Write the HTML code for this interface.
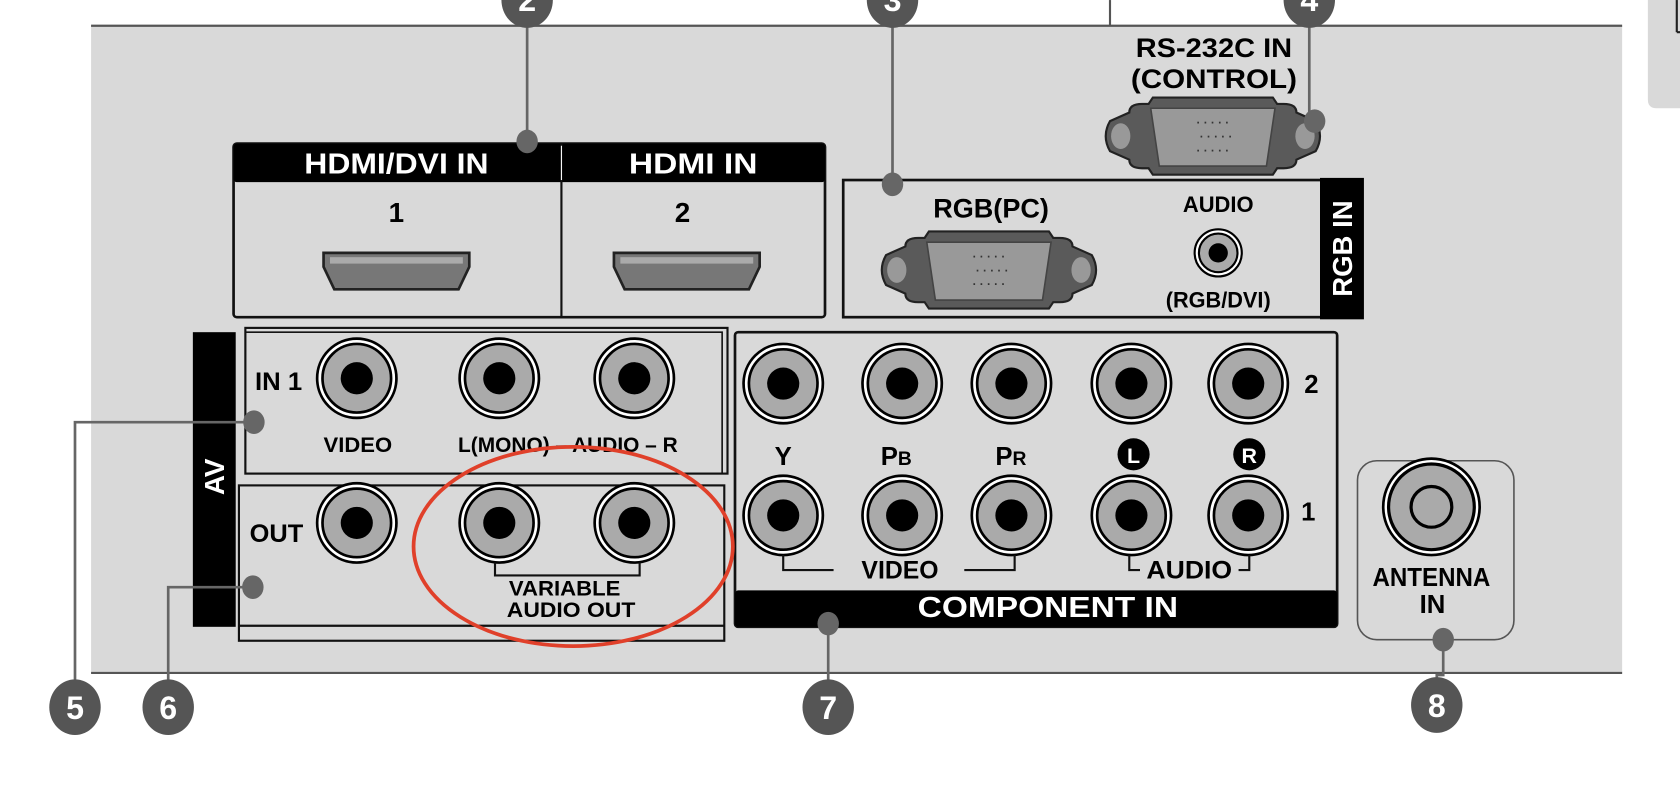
<!DOCTYPE html>
<html><head><meta charset="utf-8"><style>
html,body{margin:0;padding:0;background:#fff;width:1680px;height:794px;overflow:hidden}
svg{display:block}
text{font-family:"Liberation Sans Narrow","Liberation Sans",sans-serif;font-weight:bold}
</style></head><body>
<svg width="1680" height="794" viewBox="0 0 1568 741" xmlns="http://www.w3.org/2000/svg">
<defs>
<g id="jk">
<circle r="37" fill="#fff" stroke="#000" stroke-width="2.5"/>
<circle r="32" fill="#aaa" stroke="#000" stroke-width="2.5"/>
<circle r="15" fill="#000"/>
</g>
<g id="db">
<path d="M-78,-22 Q-78,-30 -66,-30 L-60,-30 L-56,-36 L56,-36 L60,-30 L66,-30 Q78,-30 78,-22 L96,-14 Q104,0 96,14 L78,22 Q78,30 66,30 L60,30 L56,36 L-56,36 L-60,30 L-66,30 Q-78,30 -78,22 L-96,14 Q-104,0 -96,-14 Z" fill="#5a5a5a" stroke="#222" stroke-width="2"/>
<ellipse cx="-86" cy="0" rx="9" ry="12" fill="#999"/>
<ellipse cx="86" cy="0" rx="9" ry="12" fill="#999"/>
<path d="M-58,-26 L58,-26 L50,28 L-50,28 Z" fill="#999" stroke="#444" stroke-width="1.5"/>
<g fill="#333" font-size="11" text-anchor="middle" font-weight="normal"><text x="0" y="-9">· · · · ·</text><text x="3" y="4">· · · · ·</text><text x="0" y="17">· · · · ·</text></g>
</g>
<g id="hd">
<path d="M-68,-17 L68,-17 L68,-4 L58,17 L-58,17 L-68,-4 Z" fill="#777" stroke="#222" stroke-width="2.5"/>
<rect x="-62" y="-13" width="124" height="6" fill="#aaa"/>
</g>
</defs>
<!-- right tab -->
<path d="M1538,0 H1568 V101 H1546 Q1538,101 1538,93 Z" fill="#d9d9d9"/>
<line x1="1565" y1="0" x2="1565" y2="30" stroke="#222" stroke-width="2"/>
<line x1="1565" y1="30" x2="1568" y2="30" stroke="#222" stroke-width="2"/>
<!-- panel -->
<rect x="85" y="24" width="1429" height="604" fill="#d9d9d9"/>
<line x1="85" y1="24" x2="1514" y2="24" stroke="#555" stroke-width="2"/>
<line x1="85" y1="628" x2="1514" y2="628" stroke="#555" stroke-width="2"/>
<line x1="1036" y1="0" x2="1036" y2="24" stroke="#555" stroke-width="2"/>

<!-- HDMI -->
<rect x="218" y="134" width="552" height="162" fill="none" stroke="#111" stroke-width="2.5" rx="3"/>
<rect x="218" y="134" width="552" height="36" fill="#000" rx="3"/>
<line x1="524" y1="134" x2="524" y2="296" stroke="#111" stroke-width="2"/>
<line x1="524" y1="136" x2="524" y2="168" stroke="#fff" stroke-width="1"/>
<text x="370" y="162" font-size="27" fill="#fff" text-anchor="middle" textLength="172" lengthAdjust="spacingAndGlyphs">HDMI/DVI IN</text>
<text x="647" y="162" font-size="27" fill="#fff" text-anchor="middle" textLength="120" lengthAdjust="spacingAndGlyphs">HDMI IN</text>
<text x="370" y="207" font-size="26" text-anchor="middle">1</text>
<text x="637" y="207" font-size="26" text-anchor="middle">2</text>
<use href="#hd" x="370" y="253"/>
<use href="#hd" x="641" y="253"/>

<!-- RS232 -->
<text x="1133" y="53" font-size="25" text-anchor="middle" textLength="146" lengthAdjust="spacingAndGlyphs">RS-232C IN</text>
<text x="1133" y="82" font-size="25" text-anchor="middle" textLength="155" lengthAdjust="spacingAndGlyphs">(CONTROL)</text>
<use href="#db" x="1132" y="127"/>

<!-- RGB IN -->
<rect x="787" y="168" width="484" height="128" fill="none" stroke="#111" stroke-width="2.5"/>
<rect x="1232" y="166" width="41" height="132" fill="#000"/>
<text transform="translate(1262,232) rotate(-90)" font-size="26" fill="#fff" text-anchor="middle" textLength="90" lengthAdjust="spacingAndGlyphs">RGB IN</text>
<text x="925" y="203" font-size="25" text-anchor="middle" textLength="108" lengthAdjust="spacingAndGlyphs">RGB(PC)</text>
<use href="#db" x="923" y="252"/>
<text x="1137" y="198" font-size="21" text-anchor="middle" textLength="66" lengthAdjust="spacingAndGlyphs">AUDIO</text>
<circle cx="1137" cy="236" r="22" fill="#fff" stroke="#000" stroke-width="2"/>
<circle cx="1137" cy="236" r="18" fill="#aaa" stroke="#000" stroke-width="2"/>
<circle cx="1137" cy="236" r="9" fill="#000"/>
<text x="1137" y="287" font-size="21" text-anchor="middle" font-weight="normal" textLength="98" lengthAdjust="spacingAndGlyphs">(RGB/DVI)</text>

<!-- AV -->
<rect x="180" y="310" width="40" height="275" fill="#000"/>
<text transform="translate(209,445) rotate(-90)" font-size="26" fill="#fff" text-anchor="middle">AV</text>
<rect x="229" y="306" width="450" height="136" fill="none" stroke="#111" stroke-width="2"/>
<rect x="229" y="310" width="445" height="132" fill="none" stroke="#111" stroke-width="1.5"/>
<rect x="223" y="453" width="453" height="145" fill="none" stroke="#111" stroke-width="2"/>
<line x1="223" y1="584" x2="676" y2="584" stroke="#111" stroke-width="2"/>
<text x="260" y="364" font-size="23" text-anchor="middle" textLength="44" lengthAdjust="spacingAndGlyphs">IN 1</text>
<use href="#jk" x="333" y="353"/><use href="#jk" x="466" y="353"/><use href="#jk" x="592" y="353"/>
<text x="334" y="422" font-size="20" text-anchor="middle" font-weight="normal" textLength="64" lengthAdjust="spacingAndGlyphs">VIDEO</text>
<text x="530" y="422" font-size="20" text-anchor="middle" font-weight="normal" textLength="205" lengthAdjust="spacingAndGlyphs">L(MONO) – AUDIO – R</text>
<text x="258" y="506" font-size="23" text-anchor="middle" textLength="50" lengthAdjust="spacingAndGlyphs">OUT</text>
<use href="#jk" x="333" y="488"/><use href="#jk" x="466" y="488"/><use href="#jk" x="592" y="488"/>
<path d="M462,525 V537 H597 V525" fill="none" stroke="#111" stroke-width="2"/>
<text x="527" y="556" font-size="20" text-anchor="middle" font-weight="normal" textLength="104" lengthAdjust="spacingAndGlyphs">VARIABLE</text>
<text x="533" y="576" font-size="20" text-anchor="middle" font-weight="normal" textLength="120" lengthAdjust="spacingAndGlyphs">AUDIO OUT</text>

<!-- Component -->
<rect x="686" y="310" width="562" height="275" fill="none" stroke="#111" stroke-width="2.5" rx="3"/>
<rect x="686" y="551" width="562" height="34" fill="#000" rx="3"/>
<text x="978" y="576" font-size="27" fill="#fff" text-anchor="middle" textLength="243" lengthAdjust="spacingAndGlyphs">COMPONENT IN</text>
<g>
<use href="#jk" x="731" y="358"/><use href="#jk" x="842" y="358"/><use href="#jk" x="944" y="358"/><use href="#jk" x="1056" y="358"/><use href="#jk" x="1165" y="358"/>
<use href="#jk" x="731" y="481"/><use href="#jk" x="842" y="481"/><use href="#jk" x="944" y="481"/><use href="#jk" x="1056" y="481"/><use href="#jk" x="1165" y="481"/>
</g>
<text x="1224" y="367" font-size="24" text-anchor="middle">2</text>
<text x="1221" y="486" font-size="24" text-anchor="middle">1</text>
<text x="731" y="434" font-size="24" text-anchor="middle" font-weight="normal">Y</text>
<text x="822" y="434" font-size="24" font-weight="normal">P<tspan font-size="18">B</tspan></text>
<text x="929" y="434" font-size="24" font-weight="normal">P<tspan font-size="18">R</tspan></text>
<circle cx="1058" cy="424" r="15" fill="#000"/><text x="1058" y="432" font-size="20" fill="#fff" text-anchor="middle">L</text>
<circle cx="1166" cy="424" r="15" fill="#000"/><text x="1166" y="432" font-size="20" fill="#fff" text-anchor="middle">R</text>
<path d="M731,518 V532 H778" fill="none" stroke="#111" stroke-width="2"/>
<path d="M900,532 H947 V518" fill="none" stroke="#111" stroke-width="2"/>
<text x="840" y="540" font-size="23" text-anchor="middle" textLength="72" lengthAdjust="spacingAndGlyphs">VIDEO</text>
<path d="M1054,518 V532 H1064" fill="none" stroke="#111" stroke-width="2"/>
<path d="M1156,532 H1166 V518" fill="none" stroke="#111" stroke-width="2"/>
<text x="1110" y="540" font-size="23" text-anchor="middle" textLength="80" lengthAdjust="spacingAndGlyphs">AUDIO</text>

<!-- Antenna -->
<rect x="1267" y="430" width="146" height="167" rx="18" fill="none" stroke="#555" stroke-width="1.5"/>
<circle cx="1336" cy="473" r="45" fill="#fff" stroke="#000" stroke-width="2.5"/>
<circle cx="1336" cy="473" r="40" fill="#aaa" stroke="#000" stroke-width="3"/>
<circle cx="1336" cy="473" r="19" fill="none" stroke="#000" stroke-width="3"/>
<text x="1336" y="547" font-size="24" text-anchor="middle" font-weight="normal" textLength="110" lengthAdjust="spacingAndGlyphs">ANTENNA</text>
<text x="1337" y="572" font-size="24" text-anchor="middle" font-weight="normal">IN</text>

<!-- red ellipse -->
<ellipse cx="535" cy="510" rx="149" ry="93" fill="none" stroke="#e0402a" stroke-width="3.5"/>

<!-- callout lines & dots -->
<g stroke="#666" stroke-width="2.5" fill="none">
<path d="M492,0 V132"/><path d="M833,0 V172"/><path d="M1222,0 V113"/>
<path d="M237,394 H70 V660"/><path d="M236,548 H157 V660"/>
<path d="M773,582 V660"/><path d="M1347,597 V630 H1341 V658"/>
</g>
<g fill="#666">
<ellipse cx="492" cy="132" rx="10" ry="11"/><ellipse cx="833" cy="172" rx="10" ry="11"/><ellipse cx="1227" cy="113" rx="10" ry="11"/>
<ellipse cx="237" cy="394" rx="10" ry="11"/><ellipse cx="236" cy="548" rx="10" ry="11"/>
<ellipse cx="773" cy="582" rx="10" ry="11"/><ellipse cx="1347" cy="597" rx="10" ry="11"/>
</g>
<g fill="#555">
<ellipse cx="492" cy="0" rx="24" ry="26"/><ellipse cx="833" cy="0" rx="24" ry="26"/><ellipse cx="1222" cy="0" rx="24" ry="26"/>
<ellipse cx="70" cy="660" rx="24" ry="26"/><ellipse cx="157" cy="660" rx="24" ry="26"/>
<ellipse cx="773" cy="660" rx="24" ry="26"/><ellipse cx="1341" cy="658" rx="24" ry="26"/>
</g>
<g fill="#fff" font-size="30" text-anchor="middle">
<text x="492" y="10">2</text><text x="833" y="10">3</text><text x="1222" y="10">4</text>
<text x="70" y="671">5</text><text x="157" y="671">6</text><text x="773" y="671">7</text><text x="1341" y="669">8</text>
</g>
</svg>
</body></html>
